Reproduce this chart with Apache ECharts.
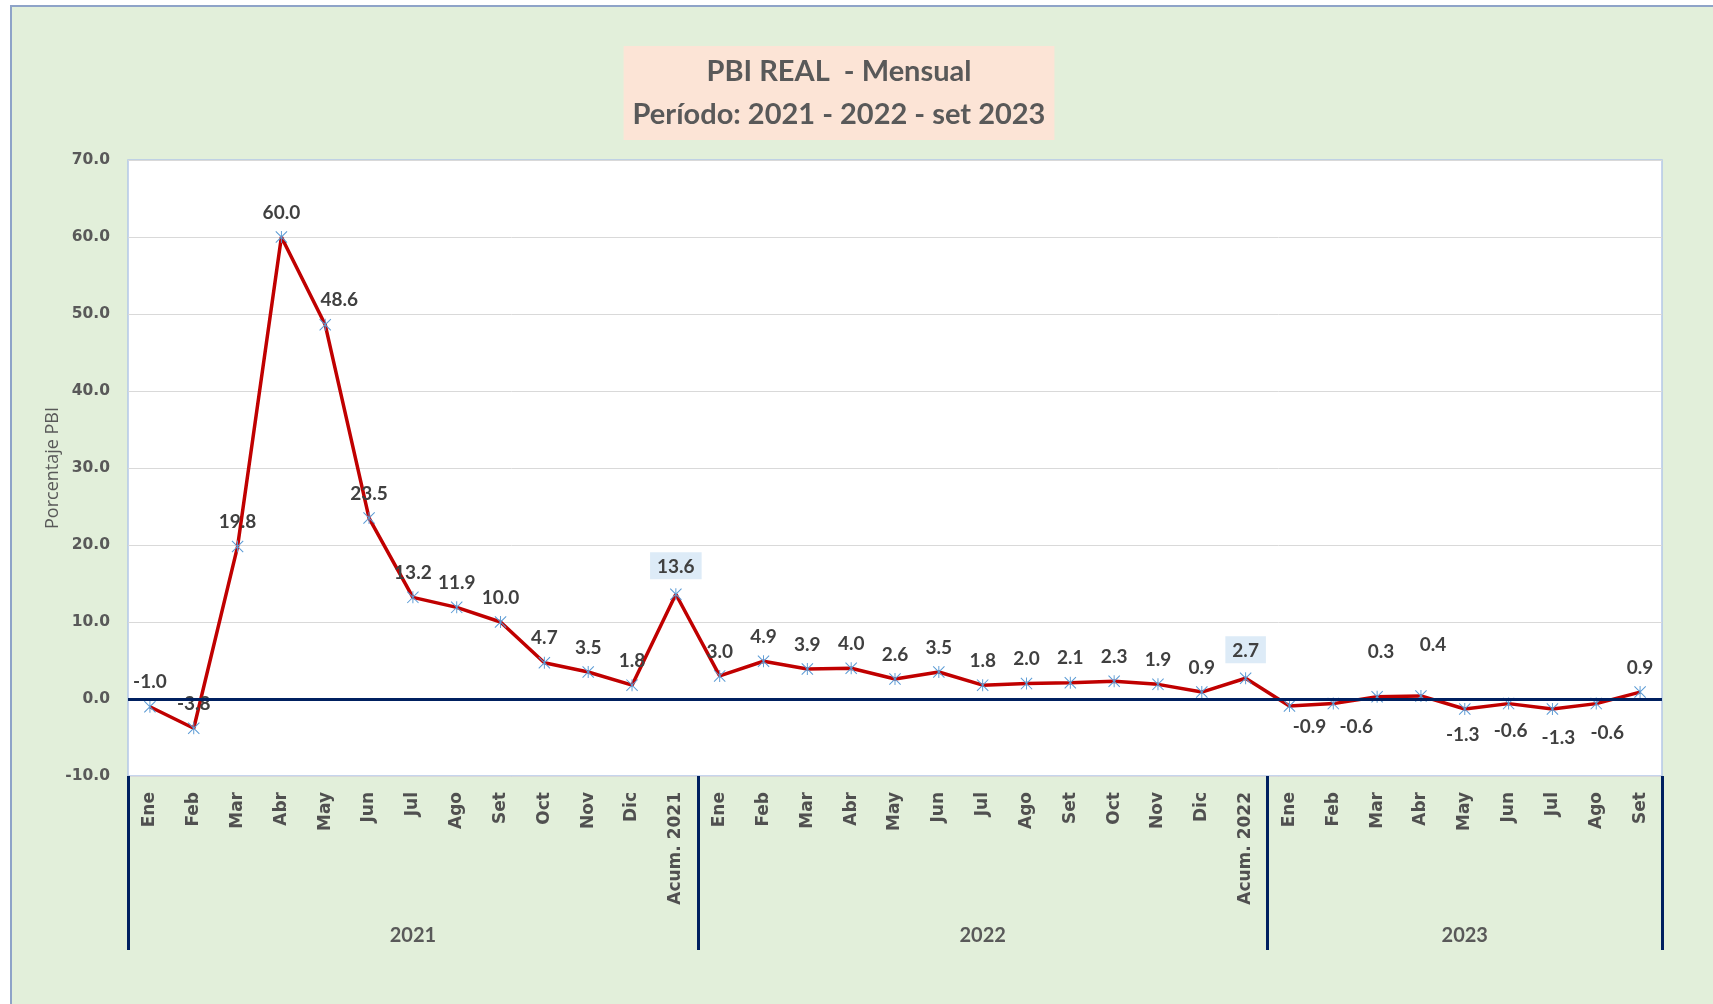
<!DOCTYPE html>
<html>
<head>
<meta charset="utf-8">
<script src="https://cdn.jsdelivr.net/npm/echarts@6/dist/echarts.min.js"></script>
<style>
    html, body { margin: 0; padding: 0; background: #fff; overflow: hidden; }
    #chart {
        position: absolute; left: 10px; top: 5px;
        width: 1701px; height: 997px;
        border-left: 2px solid #8EA3C8; border-top: 2px solid #8EA3C8;
        background: #E2EFDA;
    }
</style>
</head>
<body>
<div id="chart"></div>
<script>
var meses2021 = ['Ene', 'Feb', 'Mar', 'Abr', 'May', 'Jun', 'Jul', 'Ago', 'Set', 'Oct', 'Nov', 'Dic', 'Acum. 2021'];
var meses2022 = ['Ene', 'Feb', 'Mar', 'Abr', 'May', 'Jun', 'Jul', 'Ago', 'Set', 'Oct', 'Nov', 'Dic', 'Acum. 2022'];
var meses2023 = ['Ene', 'Feb', 'Mar', 'Abr', 'May', 'Jun', 'Jul', 'Ago', 'Set'];
var pbi2021 = [-1.0, -3.8, 19.8, 60.0, 48.6, 23.5, 13.2, 11.9, 10.0, 4.7, 3.5, 1.8, 13.6];
var pbi2022 = [3.0, 4.9, 3.9, 4.0, 2.6, 3.5, 1.8, 2.0, 2.1, 2.3, 1.9, 0.9, 2.7];
var pbi2023 = [-0.9, -0.6, 0.3, 0.4, -1.3, -0.6, -1.3, -0.6, 0.9];
var anios = ['2021', '2022', '2023'];

(function () {
    var grupos = [meses2021, meses2022, meses2023];
    var valores = [pbi2021, pbi2022, pbi2023];

    var categorias = [], anioDeCat = [], datos = [];
    var inicios = [], medios = [];
    grupos.forEach(function (g, gi) {
        inicios.push(categorias.length);
        medios.push(categorias.length + Math.floor(g.length / 2));
        g.forEach(function (m, i) {
            categorias.push(m);
            anioDeCat.push(anios[gi]);
            datos.push(valores[gi][i]);
        });
    });

    // label tweaks (pixels), to follow the hand-placed labels of the original
    var ajustes = {4: [14, 0], 26: [20, -3], 27: [23, 0], 28: [4, -20], 29: [12, -27],
        30: [-2, 2], 31: [2, 4], 32: [6, 5], 33: [11, 6]};

    var serieDatos = datos.map(function (v, i) {
        var item = {value: v, label: {}};
        var abajo = i >= inicios[2] && v < 0;
        item.label.position = abajo ? 'bottom' : 'top';
        item.label.distance = abajo ? 8 : 9;
        if (ajustes[i]) item.label.offset = ajustes[i];
        if (categorias[i].indexOf('Acum') === 0) {
            item.label.backgroundColor = '#DDEBF7';
            item.label.padding = [5, 7, 3, 7];
        }
        return item;
    });

    var asterisco = 'path://M4.6,0L5.4,0L5.4,10L4.6,10Z M0,0.6L0.6,0L10,9.4L9.4,10Z M9.4,0L10,0.6L0.6,10L0,9.4Z';

    var myChart = echarts.init(document.getElementById('chart'));
    var option = {
        animation: false,
        title: {
            text: 'PBI REAL  - Mensual\nPeríodo: 2021 - 2022 - set 2023',
            left: 818,
            top: 39,
            textAlign: 'center',
            backgroundColor: '#FCE4D6',
            padding: [4, 9, 4, 9],
            textStyle: {
                fontFamily: 'Lato',
                fontWeight: 'bold',
                fontSize: 29,
                lineHeight: 43,
                color: '#595959'
            }
        },
        grid: {
            left: 116,
            right: 51,
            top: 153,
            bottom: 228,
            show: true,
            backgroundColor: '#fff',
            borderColor: '#B4C7E7',
            borderWidth: 1.5
        },
        xAxis: [{
            type: 'category',
            data: categorias,
            boundaryGap: true,
            axisLine: {show: false},
            axisTick: {show: false},
            axisLabel: {
                rotate: 90,
                margin: 16,
                interval: 0,
                fontFamily: 'DejaVu Sans',
                fontWeight: 'bold',
                fontSize: 17,
                color: '#505050'
            }
        }, {
            type: 'category',
            data: anioDeCat,
            position: 'bottom',
            boundaryGap: true,
            axisLine: {show: false},
            axisTick: {
                show: true,
                length: 174,
                interval: function (i) { return inicios.indexOf(i) >= 0; },
                lineStyle: {color: '#002060', width: 3}
            },
            axisLabel: {
                margin: 150,
                interval: function (i) { return medios.indexOf(i) >= 0; },
                fontFamily: 'Lato',
                fontWeight: 'bold',
                fontSize: 20,
                color: '#595959'
            }
        }],
        yAxis: {
            type: 'value',
            min: -10,
            max: 70,
            interval: 10,
            name: 'Porcentaje PBI',
            nameLocation: 'middle',
            nameRotate: 90,
            nameGap: 66,
            nameMoveOverlap: false,
            nameTextStyle: {
                fontFamily: 'Open Sans',
                fontSize: 18,
                color: '#595959'
            },
            axisLine: {show: false},
            axisTick: {show: false},
            axisLabel: {
                margin: 18,
                fontFamily: 'DejaVu Sans',
                fontWeight: 'bold',
                fontSize: 15.5,
                color: '#595959',
                formatter: function (v) { return v.toFixed(1); }
            },
            splitLine: {lineStyle: {color: '#D9D9D9', width: 1}}
        },
        series: [{
            type: 'line',
            data: [],
            z: 1,
            markLine: {
                silent: true,
                symbol: 'none',
                label: {show: false},
                lineStyle: {color: '#002060', width: 3, type: 'solid'},
                data: [{yAxis: 0}]
            }
        }, {
            name: 'PBI',
            type: 'line',
            z: 3,
            data: serieDatos,
            symbol: asterisco,
            symbolSize: 12,
            itemStyle: {color: '#5B9BD5'},
            lineStyle: {color: '#C00000', width: 3.5},
            label: {
                show: true,
                fontFamily: 'Lato',
                fontWeight: 'bold',
                fontSize: 19,
                color: '#404040',
                formatter: function (p) { return p.value.toFixed(1); }
            }
        }]
    };
    myChart.setOption(option);
})();
</script>
</body>
</html>
